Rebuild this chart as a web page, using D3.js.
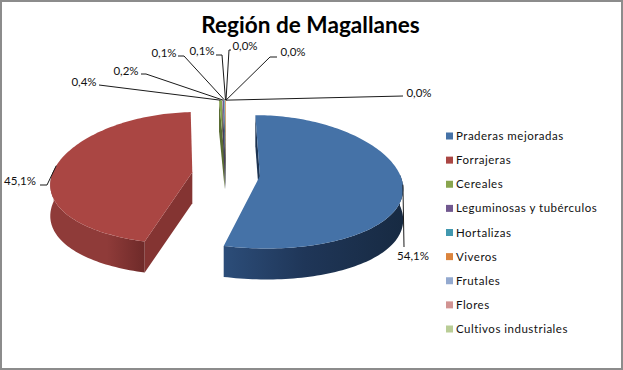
<!DOCTYPE html>
<html>
<head>
<meta charset="utf-8">
<script src="https://cdn.jsdelivr.net/npm/d3@7"></script>
<style>
    html, body { margin: 0; padding: 0; background: #fff; }
    text { font-family: Lato, "Open Sans", sans-serif; }
</style>
</head>
<body>
<div id="chart"></div>
<script>
const WIDTH = 623;
const HEIGHT = 370;

const title = "Región de Magallanes";
const categories = ["Praderas mejoradas", "Forrajeras", "Cereales", "Leguminosas y tubérculos", "Hortalizas", "Viveros", "Frutales", "Flores", "Cultivos industriales"];
const shares = [54.1, 45.1, 0.4, 0.2, 0.1, 0.1, 0.0, 0.0, 0.0];
const colors = ["#4572a7", "#aa4643", "#89a54e", "#71588f", "#4198af", "#db843d", "#93a9cf", "#d19392", "#b9cd96"];

// hand placed label spots, [label x, label y, stub x, elbow x, elbow y]
const labelSpots = [
    [413, 256, 404, 404, 247],
    [20, 181, 40, 47, 185],
    [84, 82, 99, 99, 85],
    [126, 71, 141, 146, 74],
    [164, 53, 178, 184, 56],
    [202, 51, 216, 222, 55],
    [245, 46, 231, 229, 50],
    [293, 52, 277, 270, 57],
    [419, 93, 403, 403, 96]
];

const CX = 226, CY = 174, R = 140, EXPLODE = 34, DEPTH = 31, TILT = 0.47;

// tilted pie with a little perspective, front is larger than back
function project(X, Y, z) {
    const sx = 1 / (1 - Y * 0.0011);
    const sy = 1 / (1 - Y * 0.000617);
    return [CX + X * sx, CY + Y * sy * TILT + z];
}

function slicePoint(d, r, a, z) {
    const mid = (d.startAngle + d.endAngle) / 2;
    const X = EXPLODE * Math.sin(mid) + r * Math.sin(a);
    const Y = -EXPLODE * Math.cos(mid) - r * Math.cos(a);
    return project(X, Y, z);
}

const arcs = d3.pie().sort(null).value((d) => d)(shares).map((d, i) => ({ ...d, i }));

const svg = d3.select("#chart").append("svg").attr("width", WIDTH).attr("height", HEIGHT).style("display", "block");
const defs = svg.append("defs");

const line = d3.line();

function arcPoints(d, z) {
    const n = Math.max(2, Math.ceil((d.endAngle - d.startAngle) * 40));
    return d3.range(n + 1).map((k) => slicePoint(d, R, d.startAngle + (d.endAngle - d.startAngle) * k / n, z));
}

// paint back slices first, the small ones sit behind the gap
const order = [2, 3, 4, 5, 6, 7, 8, 1, 0];
order.forEach((i) => {
    const d = arcs[i];
    if (d.value === 0) return;
    const g = svg.append("g");
    const top = arcPoints(d, 0);
    const apex = slicePoint(d, 0, 0, 0);
    const apexLow = slicePoint(d, 0, 0, DEPTH);

    // outer wall, only the part running along the front
    const wall = [];
    const lows = arcPoints(d, DEPTH);
    top.forEach((p, k) => {
        const a = d.startAngle + (d.endAngle - d.startAngle) * k / (top.length - 1);
        if (Math.cos(a) < 0.03) wall.push(k);
    });
    if (wall.length > 1) {
        const ring = wall.map((k) => top[k]).concat(wall.map((k) => lows[k]).reverse());
        const xs = d3.extent(ring, (p) => p[0]);
        const id = "wall" + i;
        const grad = defs.append("linearGradient").attr("id", id).attr("gradientUnits", "userSpaceOnUse")
            .attr("x1", xs[0]).attr("x2", xs[1]).attr("y1", 0).attr("y2", 0);
        const stops = i === 0
            ? [[0, "#2c4d79"], [0.45, "#1f3658"], [1, "#172a42"]]
            : [[0, "#8f3b39"], [0.6, "#8f3b39"], [1, "#6e2a29"]];
        stops.forEach((s) => grad.append("stop").attr("offset", s[0]).attr("stop-color", s[1]));
        g.append("path").attr("d", line(ring) + "Z").attr("fill", `url(#${id})`);
    }

    // cut faces, keep only the ones turned towards the viewer
    [d.startAngle, d.endAngle].forEach((a) => {
        const o = slicePoint(d, R, a, 0), ol = slicePoint(d, R, a, DEPTH);
        const face = [apex, o, ol, apexLow];
        const area = d3.polygonArea(face);
        if (a === d.startAngle ? area <= 0 : area >= 0) return;
        const fill = i === 0 ? "#1c3352" : i === 1 ? "#843432" : d3.rgb(colors[i]).darker(1.2).formatHex();
        g.append("path").attr("d", line(face) + "Z").attr("fill", fill);
    });

    g.append("path").attr("d", line(top.concat([apex])) + "Z").attr("fill", colors[i]);
});

// leader lines run from each label to the rim of its slice
const leaders = svg.append("g").attr("fill", "none").attr("stroke", "#1a1a1a").attr("stroke-width", 1);
arcs.forEach((d, i) => {
    const mid = (d.startAngle + d.endAngle) / 2;
    const s = labelSpots[i];
    leaders.append("path").attr("d", line([[s[2], s[4]], [s[3], s[4]], slicePoint(d, R, mid, 0)]));
});

svg.append("g").selectAll("text").data(arcs).join("text")
    .attr("x", (d) => labelSpots[d.i][0])
    .attr("y", (d) => labelSpots[d.i][1])
    .attr("dy", "0.35em")
    .attr("text-anchor", "middle")
    .attr("font-size", 11.5)
    .attr("fill", "#111")
    .text((d) => d3.format(".1f")(d.value).replace(".", ",") + "%");

svg.append("text").attr("x", 310.5).attr("y", 33).attr("text-anchor", "middle")
    .attr("font-size", 22.6).attr("font-weight", 700).attr("fill", "#000").text(title);

const legendY = d3.scalePoint().domain(categories).range([136, 329]);
const legend = svg.append("g").selectAll("g").data(categories).join("g")
    .attr("transform", (d) => `translate(446,${legendY(d)})`);
legend.append("rect").attr("y", -3.5).attr("width", 7).attr("height", 7).attr("fill", (d, i) => colors[i]);
legend.append("text").attr("x", 10).attr("dy", "0.35em").attr("font-size", 11.5)
    .attr("letter-spacing", 0.5).attr("fill", "#111").text((d) => d);

// frame of the chart area
svg.append("rect").attr("x", 1).attr("y", 1).attr("width", WIDTH - 2).attr("height", HEIGHT - 2)
    .attr("fill", "none").attr("stroke", "#8c8c8c").attr("stroke-width", 2);
</script>
</body>
</html>
